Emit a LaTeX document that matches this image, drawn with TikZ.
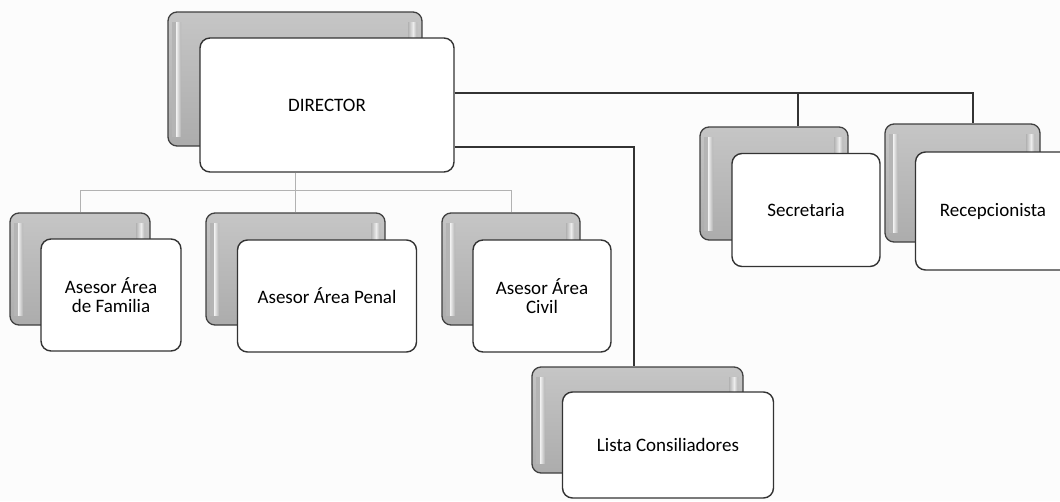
\documentclass[tikz,border=0pt]{standalone}
\usepackage{fontspec}
\setmainfont{Carlito}
\usetikzlibrary{positioning, calc}

\begin{document}
\begin{tikzpicture}[
      x=1pt, y=-1pt,
      font=\fontsize{19}{19.5}\selectfont,
      backbox/.style={rectangle, rounded corners=9pt, draw=black!75, line width=1.3pt,
        top color=gray!45, bottom color=gray!65, inner sep=0pt,
        path picture={
          \shade[sharp corners, left color=gray!60, right color=white!90!gray]
            ([xshift=4pt,yshift=-10pt]path picture bounding box.north west)
            rectangle ([xshift=8pt,yshift=10pt]path picture bounding box.south west);
          \shade[sharp corners, left color=white!90!gray, right color=gray!60]
            ([xshift=8pt,yshift=-10pt]path picture bounding box.north west)
            rectangle ([xshift=13pt,yshift=10pt]path picture bounding box.south west);
          \shade[sharp corners, left color=gray!60, right color=white!85!gray]
            ([xshift=-14pt,yshift=-10pt]path picture bounding box.north east)
            rectangle ([xshift=-9pt,yshift=10pt]path picture bounding box.south east);
          \shade[sharp corners, left color=white!85!gray, right color=gray!60]
            ([xshift=-9pt,yshift=-10pt]path picture bounding box.north east)
            rectangle ([xshift=-5pt,yshift=10pt]path picture bounding box.south east);
        }},
      frontbox/.style={rectangle, rounded corners=10pt, draw=black!80, fill=white,
        line width=1.4pt, align=center, inner sep=0pt},
      link/.style={draw=black!80, line width=1.2pt},
      sublink/.style={draw=gray!60, line width=1pt}
    ]
      \fill[gray!2] (0,0) rectangle (1060,501);
      \useasboundingbox (0,0) rectangle (1060,501);
      % director
      \node[backbox, minimum width=254pt, minimum height=134pt] (dirB) at (295,79) {};
      \node[frontbox, minimum width=254pt, minimum height=134pt] (dirF) at (327,105) {DIRECTOR};
      % asesores
      \node[backbox, minimum width=140pt, minimum height=112pt] (famB) at (80,269) {};
      \node[frontbox, minimum width=140pt, minimum height=112pt] (famF) at (111,295) {Asesor Área\\de Familia};
      \node[backbox, minimum width=179pt, minimum height=112pt] (penB) at (295.5,269) {};
      \node[frontbox, minimum width=179pt, minimum height=112pt] (penF) at (327,296) {Asesor Área Penal};
      \node[backbox, minimum width=138pt, minimum height=112pt] (civB) at (511,269) {};
      \node[frontbox, minimum width=138pt, minimum height=112pt] (civF) at (542,296) {Asesor Área\\Civil};
      % lista
      \node[backbox, minimum width=211pt, minimum height=106pt] (lisB) at (637.5,420) {};
      \node[frontbox, minimum width=211pt, minimum height=106pt] (lisF) at (668,445) {Lista Consiliadores};
      % secretaria y recepcion
      \node[backbox, minimum width=148pt, minimum height=113pt] (secB) at (774,183.5) {};
      \node[frontbox, minimum width=148pt, minimum height=113pt] (secF) at (806,210) {Secretaria};
      \node[backbox, minimum width=155pt, minimum height=118pt] (recB) at (962.5,183) {};
      \node[frontbox, minimum width=155pt, minimum height=118pt] (recF) at (993,211) {Recepcionista};
      % conectores
      \coordinate (bus) at ([yshift=12pt]dirF.east);
      \coordinate (secTop) at ([xshift=24pt]secB.north);
      \coordinate (recTop) at ([xshift=10.5pt]recB.north);
      \coordinate (lisTop) at ([xshift=-3.5pt]lisB.north);
      \draw[link] (bus) -| (recTop);
      \draw[link] (secTop) -- (secTop |- bus);
      \draw[link] ([yshift=-42pt]dirF.east) -| (lisTop);
      \coordinate (dirDrop) at (dirB.south |- dirF.south);
      \coordinate (hub) at ($(dirDrop)+(0,18)$);
      \draw[sublink] (dirDrop) -- (hub);
      \draw[sublink] (famB.north) |- (hub) -| (civB.north);
      \draw[sublink] (penB.north) -- (penB.north |- hub);
    \end{tikzpicture}
\end{document}
